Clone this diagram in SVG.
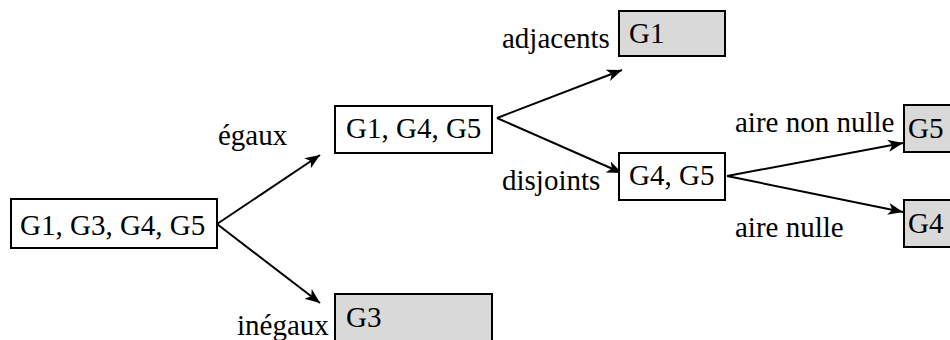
<svg xmlns="http://www.w3.org/2000/svg" width="950" height="340" viewBox="0 0 950 340">
  <style>
    .t { font-family: "Liberation Serif", serif; font-size: 29px; fill: #000000; }
    .box { fill: #ffffff; stroke: #000000; stroke-width: 2; }
    .leaf { fill: #d9d9d9; stroke: #000000; stroke-width: 2; }
    .edge { fill: none; stroke: #000000; stroke-width: 2; }
  </style>
  <defs>
    <marker id="arrow" markerUnits="userSpaceOnUse" markerWidth="16" markerHeight="14" refX="15" refY="6" orient="auto" viewBox="0 0 16 12">
      <path d="M0,0 L15,6 L0,12 L4,6 z" fill="#000000"/>
    </marker>
  </defs>
  <rect width="950" height="340" fill="#ffffff"/>

  <g id="connectors">
    <line class="edge" marker-end="url(#arrow)" x1="217" y1="224" x2="320" y2="155"/>
    <line class="edge" marker-end="url(#arrow)" x1="217" y1="224" x2="320" y2="303"/>
    <line class="edge" marker-end="url(#arrow)" x1="497" y1="118" x2="622" y2="70"/>
    <line class="edge" marker-end="url(#arrow)" x1="497" y1="118" x2="622" y2="173"/>
    <line class="edge" marker-end="url(#arrow)" x1="727" y1="176" x2="903" y2="143"/>
    <line class="edge" marker-end="url(#arrow)" x1="727" y1="176" x2="903" y2="212"/>
  </g>

  <g id="edge-labels">
    <text class="t" font-family="Liberation Serif" font-size="29" x="218" y="145">égaux</text>
    <text class="t" font-family="Liberation Serif" font-size="29" x="237" y="335">inégaux</text>
    <text class="t" font-family="Liberation Serif" font-size="29" x="502" y="48">adjacents</text>
    <text class="t" font-family="Liberation Serif" font-size="29" x="502" y="190">disjoints</text>
    <text class="t" font-family="Liberation Serif" font-size="29" x="735" y="132">aire non nulle</text>
    <text class="t" font-family="Liberation Serif" font-size="29" x="735" y="237">aire nulle</text>
  </g>

  <g id="n-all">
    <rect class="box" x="11" y="199" width="206" height="49"/>
    <text class="t" font-family="Liberation Serif" font-size="29" x="20" y="235">G1, G3, G4, G5</text>
  </g>
  <g id="n-g1g4g5">
    <rect class="box" x="335" y="106" width="157" height="47"/>
    <text class="t" font-family="Liberation Serif" font-size="29" x="346" y="138">G1, G4, G5</text>
  </g>
  <g id="n-g3">
    <rect class="leaf" x="335" y="294" width="157" height="50"/>
    <text class="t" font-family="Liberation Serif" font-size="29" x="346" y="327">G3</text>
  </g>
  <g id="n-g1">
    <rect class="leaf" x="619" y="11" width="106" height="45"/>
    <text class="t" font-family="Liberation Serif" font-size="29" x="629" y="43">G1</text>
  </g>
  <g id="n-g4g5">
    <rect class="box" x="619" y="153" width="106" height="47"/>
    <text class="t" font-family="Liberation Serif" font-size="29" x="629" y="185">G4, G5</text>
  </g>
  <g id="n-g5">
    <rect class="leaf" x="904" y="105" width="60" height="47"/>
    <text class="t" font-family="Liberation Serif" font-size="29" x="908" y="138">G5</text>
  </g>
  <g id="n-g4">
    <rect class="leaf" x="904" y="200" width="60" height="47"/>
    <text class="t" font-family="Liberation Serif" font-size="29" x="908" y="233">G4</text>
  </g>
</svg>
